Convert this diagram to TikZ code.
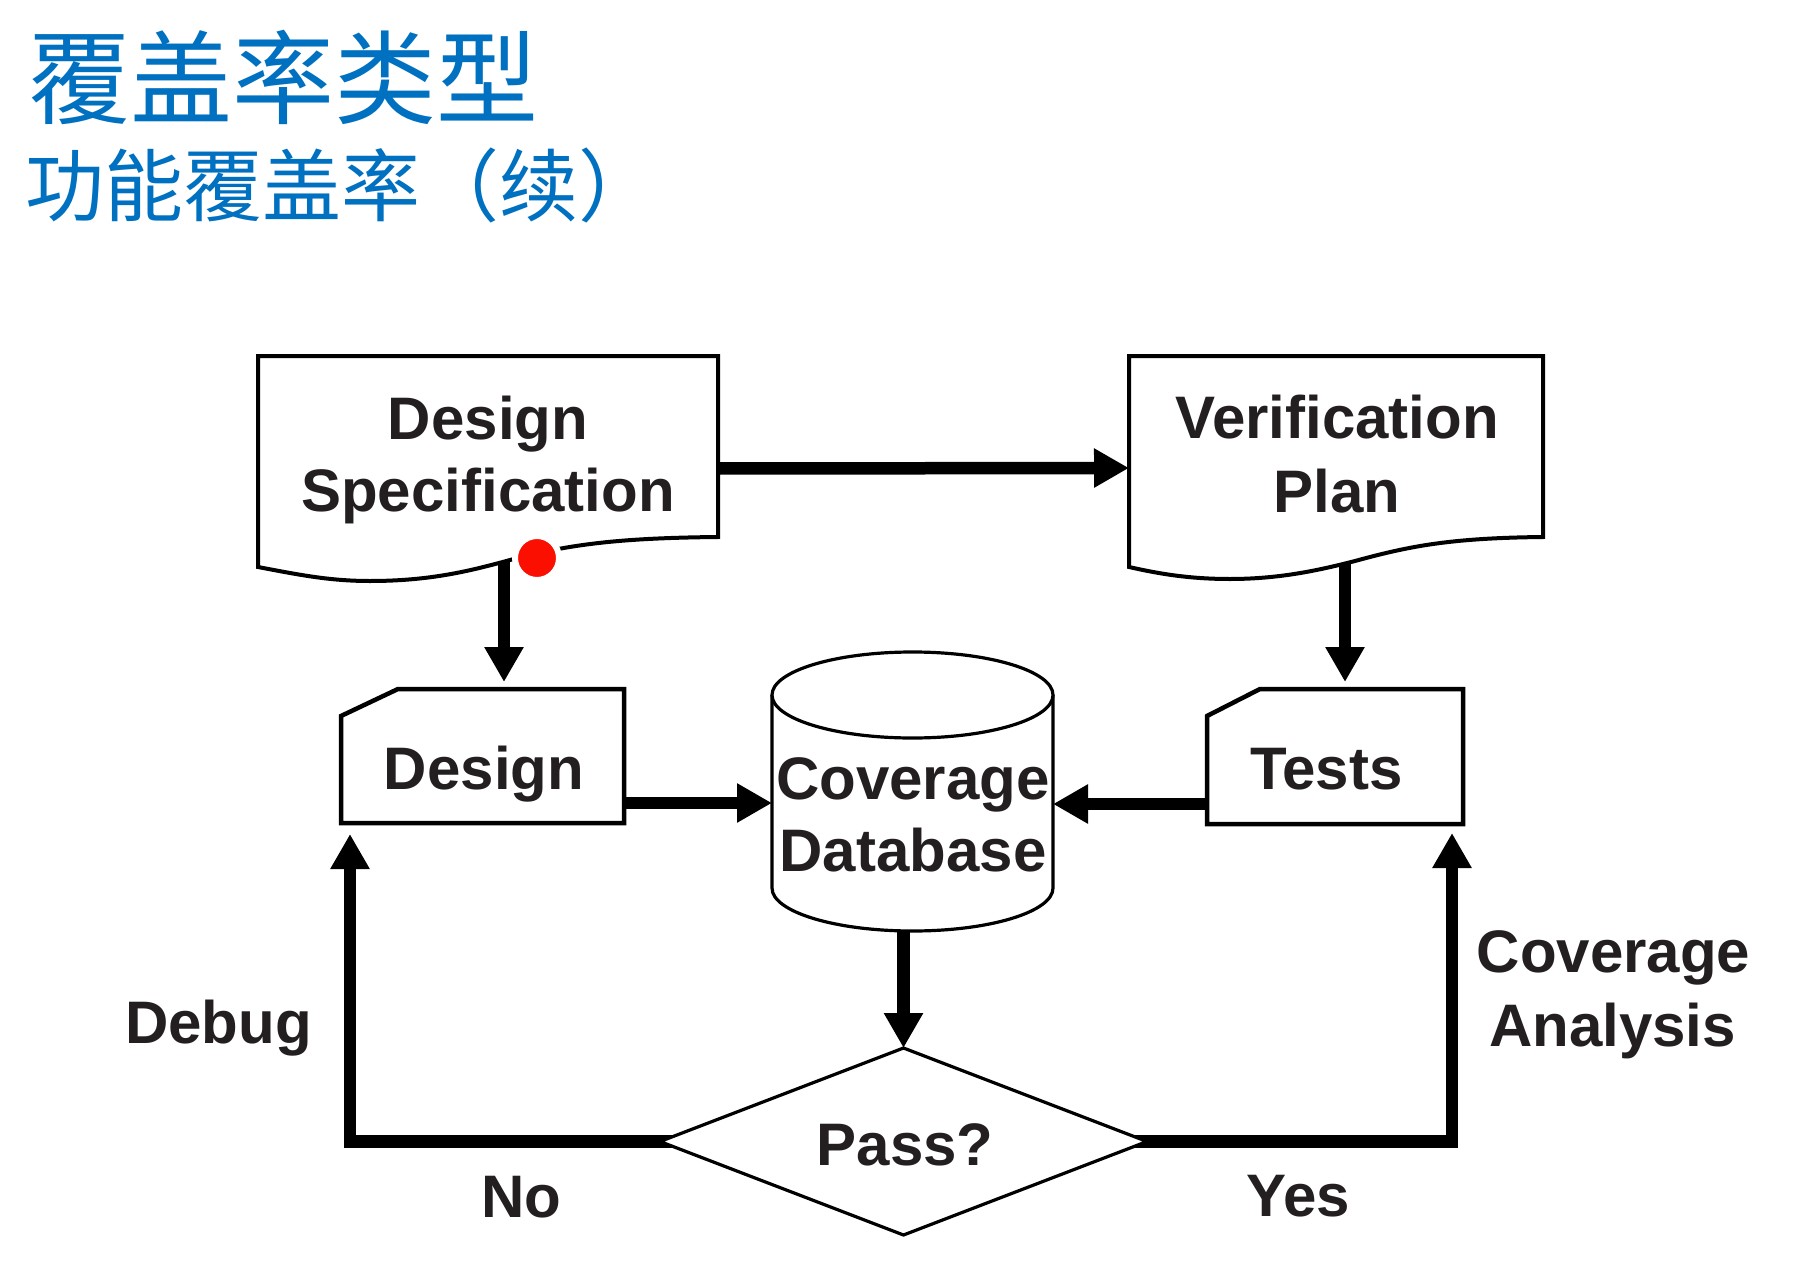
\documentclass[tikz,border=0pt]{standalone}
\usepackage{fontspec}
\setmainfont{Liberation Sans}
\newfontfamily\cjk{Noto Sans CJK SC}
\usetikzlibrary{arrows.meta,calc}
\pgfdeclarelayer{bg}
\pgfsetlayers{bg,main}
\definecolor{ink}{HTML}{231F20}
\definecolor{titleblue}{HTML}{0070C0}
\definecolor{dotred}{RGB}{250,15,0}
\begin{document}
\begin{tikzpicture}[x=1pt,y=-1pt,
  lbl/.style={font=\fontsize{60}{72}\selectfont\bfseries, text=ink, inner sep=0pt, anchor=base},
  hold/.style={rectangle, draw=none, inner sep=0pt, outer sep=0pt},
  docline/.style={draw=black, fill=white, line width=4pt, line join=miter},
  cardline/.style={draw=black, fill=white, line width=4.5pt, line join=miter},
  thinline/.style={draw=black, fill=white, line width=3.2pt, line join=miter},
  conn/.style={line width=12.5pt, line join=miter, -{Triangle[length=35pt,width=37pt]}},
  titleA/.style={font=\cjk\fontsize{102}{110}\selectfont, text=titleblue, inner sep=0pt, anchor=base west},
  titleB/.style={font=\cjk\fontsize{79}{90}\selectfont, text=titleblue, inner sep=0pt, anchor=base west},
]
\useasboundingbox (0,0) rectangle (1817,1273);
\begin{pgfonlayer}{bg}
\fill[white] (0,0) rectangle (1817,1273);
\end{pgfonlayer}

% holder nodes (exact extents of the shapes)
\node[hold, minimum width=460pt, minimum height=225pt] (ds) at (488,468.5) {};
\node[hold, minimum width=414pt, minimum height=224pt] (vp) at (1336,468) {};
\node[hold, minimum width=283pt, minimum height=134pt] (design) at (482.5,756) {};
\node[hold, minimum width=256pt, minimum height=135pt] (tests) at (1335,756.5) {};
\node[hold, minimum width=281pt, minimum height=279pt] (cyl) at (912.5,791.5) {};
\node[hold, minimum width=487pt, minimum height=187pt] (dia) at (903.5,1141.5) {};

\coordinate (xa) at (504,0);
\coordinate (xb) at (1345,0);
\coordinate (xd) at (350,0);
\coordinate (xe) at (1452,0);
\coordinate (ya) at (0,803);
\coordinate (yb) at (0,804);

% shapes
\draw[docline] (ds.north west) -- (ds.north east) -- (718,537)
  .. controls (620,538) and (570,544) .. (510,560)
  .. controls (470,571) and (430,581) .. (370,581)
  .. controls (330,581) and (300,575) .. (258,567) -- cycle;
\draw[docline] (vp.north west) -- (vp.north east) -- (1543,537)
  .. controls (1450,538) and (1410,546) .. (1355,561)
  .. controls (1320,570) and (1280,579) .. (1230,579)
  .. controls (1190,579) and (1160,574) .. (1129,567) -- cycle;
\draw[cardline] (341,716) -- (398,689) -- (624,689) -- (624,823) -- (341,823) -- cycle;
\draw[cardline] (1207,716) -- (1260,689) -- (1463,689) -- (1463,824) -- (1207,824) -- cycle;
\draw[thinline] (772,695) -- (772,888) arc[start angle=180, end angle=0, x radius=140.5, y radius=43] -- (1053,695);
\draw[thinline] (912.5,695) ellipse [x radius=140.5, y radius=43];
\draw[thinline] (dia.north) -- (dia.east) -- (dia.south) -- (dia.west) -- cycle;

% texts
\node[titleA] (t1) at (28,117) {覆盖率类型};
\node[titleB] (t2) at (25,216) {功能覆盖率（续）};

\node[lbl] (dst1) at (488,439) {Design};
\node[lbl] (dst2) at (488,511) {Specification};
\node[lbl] (vpt1) at (1337,438) {Verification};
\node[lbl] (vpt2) at (1337,512) {Plan};
\node[lbl] (dest) at (484,789) {Design};
\node[lbl] (tstt) at (1326.5,789) {Tests};
\node[lbl] (cyt1) at (913,799) {Coverage};
\node[lbl] (cyt2) at (913,871) {Database};
\node[lbl] (pass) at (905,1165) {Pass?};
\node[lbl] (dbg) at (218.5,1043) {Debug};
\node[lbl] (no) at (521,1217) {No};
\node[lbl] (yes) at (1298,1216) {Yes};
\node[lbl] (ca1) at (1613.5,972) {Coverage};
\node[lbl] (ca2) at (1612.5,1046) {Analysis};

% red marker
\node[circle, fill=dotred, draw=white, line width=6pt, minimum size=44pt, inner sep=0pt] (dot) at (537,558) {};

% connectors
\begin{pgfonlayer}{bg}
\draw[conn] (ds.east) -- (vp.west);
\draw[conn, shorten >=7pt] (ds.center -| xa) -- (design.north -| xa);
\draw[conn, shorten >=7pt] (vp.center -| xb) -- (tests.north -| xb);
\draw[conn] (design.center |- ya) -- (cyl.west |- ya);
\draw[conn] (tests.center |- yb) -- (cyl.east |- yb);
\draw[conn] (cyl.center -| dia.north) -- (dia.north);
\draw[conn, shorten >=11pt] (dia.center) -| (design.south -| xd);
\draw[conn, shorten >=9pt] (dia.center) -| (tests.south -| xe);
\end{pgfonlayer}
\end{tikzpicture}
\end{document}
